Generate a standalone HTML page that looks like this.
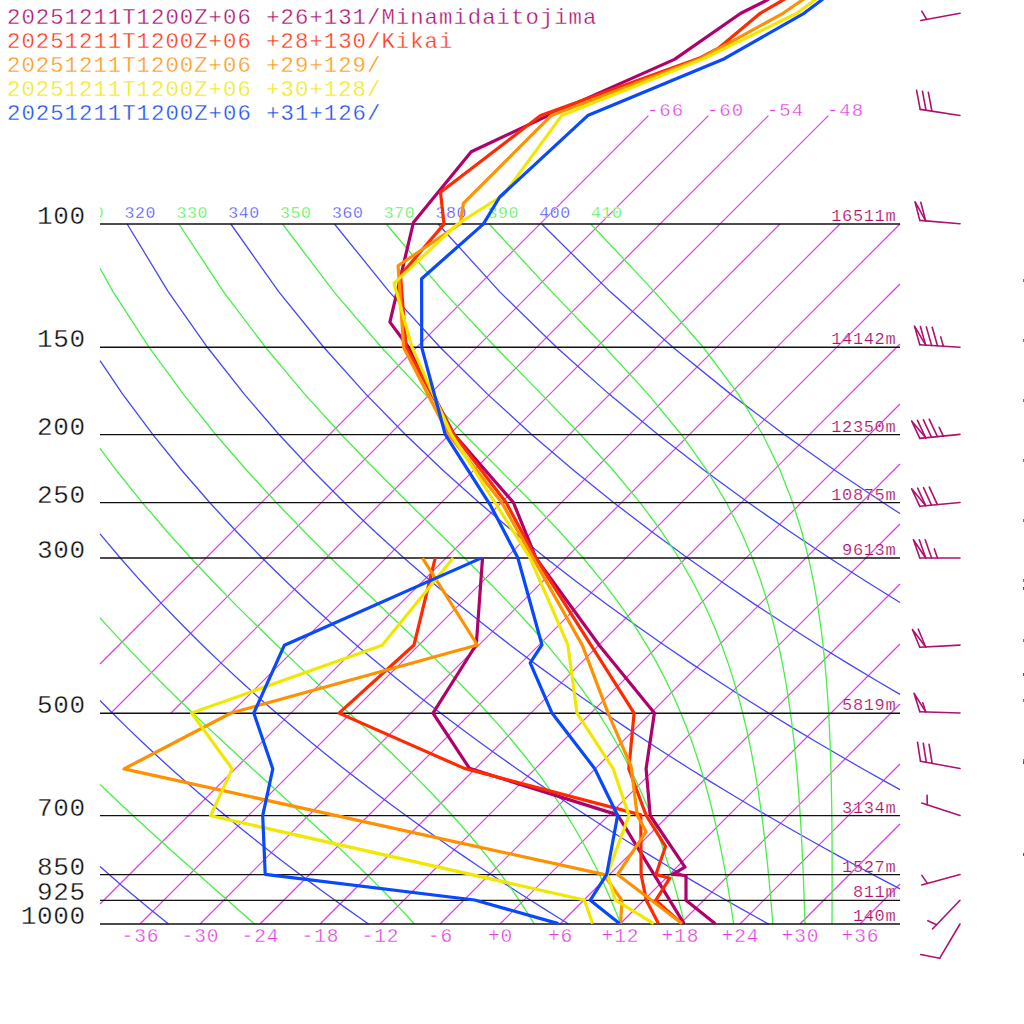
<!DOCTYPE html><html><head><meta charset="utf-8"><style>html,body{margin:0;padding:0;background:#fff}svg{display:block}</style></head><body>
<svg width="1024" height="1024" viewBox="0 0 1024 1024">
<rect width="1024" height="1024" fill="#fff"/>
<polyline points="100.00,664.00 648.43,115.57" fill="none" stroke="#e03ee0" stroke-width="1.2"/>
<polyline points="110.73,713.27 708.43,115.57" fill="none" stroke="#e03ee0" stroke-width="1.2"/>
<polyline points="170.73,713.27 768.43,115.57" fill="none" stroke="#e03ee0" stroke-width="1.2"/>
<polyline points="230.73,713.27 828.43,115.57" fill="none" stroke="#e03ee0" stroke-width="1.2"/>
<polyline points="100.00,904.00 780.00,224.00" fill="none" stroke="#e03ee0" stroke-width="1.2"/>
<polyline points="140.01,923.99 840.00,224.00" fill="none" stroke="#e03ee0" stroke-width="1.2"/>
<polyline points="200.01,923.99 900.00,224.00" fill="none" stroke="#e03ee0" stroke-width="1.2"/>
<polyline points="260.01,923.99 900.00,284.00" fill="none" stroke="#e03ee0" stroke-width="1.2"/>
<polyline points="320.01,923.99 900.00,344.00" fill="none" stroke="#e03ee0" stroke-width="1.2"/>
<polyline points="380.01,923.99 900.00,404.00" fill="none" stroke="#e03ee0" stroke-width="1.2"/>
<polyline points="440.01,923.99 900.00,464.00" fill="none" stroke="#e03ee0" stroke-width="1.2"/>
<polyline points="500.01,923.99 900.00,524.00" fill="none" stroke="#e03ee0" stroke-width="1.2"/>
<polyline points="560.01,923.99 900.00,584.00" fill="none" stroke="#e03ee0" stroke-width="1.2"/>
<polyline points="620.01,923.99 900.00,644.00" fill="none" stroke="#e03ee0" stroke-width="1.2"/>
<polyline points="680.01,923.99 900.00,704.00" fill="none" stroke="#e03ee0" stroke-width="1.2"/>
<polyline points="740.01,923.99 900.00,764.00" fill="none" stroke="#e03ee0" stroke-width="1.2"/>
<polyline points="800.01,923.99 900.00,824.00" fill="none" stroke="#e03ee0" stroke-width="1.2"/>
<polyline points="860.01,923.99 900.00,884.00" fill="none" stroke="#e03ee0" stroke-width="1.2"/>
<polyline points="100.00,866.57 109.14,874.58 119.36,883.39 129.45,891.96 139.40,900.29 149.23,908.39 158.93,916.29 168.51,923.99" fill="none" stroke="#4646ff" stroke-width="1.3"/>
<polyline points="100.00,700.55 112.57,713.27 127.65,728.10 142.42,742.24 156.89,755.76 171.09,768.69 185.01,781.10 198.68,793.03 212.11,804.50 225.30,815.56 238.27,826.22 251.03,836.53 263.58,846.50 275.93,856.15 288.10,865.50 300.08,874.58 311.89,883.39 323.53,891.96 335.00,900.29 346.32,908.39 357.49,916.29 368.51,923.99" fill="none" stroke="#4646ff" stroke-width="1.3"/>
<polyline points="100.00,533.86 120.29,557.98 141.84,582.31 162.74,604.84 183.03,625.81 202.75,645.43 221.95,663.86 240.64,681.24 258.88,697.68 276.67,713.27 294.05,728.10 311.05,742.24 327.68,755.76 343.96,768.69 359.91,781.10 375.55,793.03 390.89,804.50 405.94,815.56 420.73,826.22 435.26,836.53 449.54,846.50 463.59,856.15 477.41,865.50 491.01,874.58 504.41,883.39 517.60,891.96 530.60,900.29 543.42,908.39 556.05,916.29 568.51,923.99" fill="none" stroke="#4646ff" stroke-width="1.3"/>
<polyline points="100.00,360.63 122.63,394.12 152.90,434.72 181.88,470.52 209.68,502.55 236.40,531.53 262.13,557.98 286.96,582.31 310.96,604.84 334.20,625.81 356.73,645.43 378.61,663.86 399.89,681.24 420.59,697.68 440.77,713.27 460.46,728.10 479.68,742.24 498.46,755.76 516.82,768.69 534.80,781.10 552.41,793.03 569.66,804.50 586.59,815.56 603.19,826.22 619.50,836.53 635.51,846.50 651.25,856.15 666.73,865.50 681.95,874.58 696.93,883.39 711.68,891.96 726.20,900.29 740.51,908.39 754.61,916.29 768.51,923.99" fill="none" stroke="#4646ff" stroke-width="1.3"/>
<polyline points="127.13,224.00 168.36,291.84 207.35,347.26 244.24,394.12 279.24,434.72 312.54,470.52 344.33,502.55 374.76,531.53 403.97,557.98 432.08,582.31 459.18,604.84 485.37,625.81 510.71,645.43 535.28,663.86 559.13,681.24 582.31,697.68 604.88,713.27 626.86,728.10 648.30,742.24 669.24,755.76 689.69,768.69 709.69,781.10 729.27,793.03 748.44,804.50 767.23,815.56 785.65,826.22 803.73,836.53 821.48,846.50 838.91,856.15 856.04,865.50 872.88,874.58 889.45,883.39 900.00,888.93" fill="none" stroke="#4646ff" stroke-width="1.3"/>
<polyline points="230.80,224.00 278.84,291.84 323.74,347.26 365.86,394.12 405.58,434.72 443.20,470.52 478.98,502.55 513.12,531.53 545.81,557.98 577.20,582.31 607.40,604.84 636.53,625.81 664.69,645.43 691.94,663.86 718.37,681.24 744.03,697.68 768.98,713.27 793.26,728.10 816.93,742.24 840.02,755.76 862.56,768.69 884.59,781.10 900.00,789.63" fill="none" stroke="#4646ff" stroke-width="1.3"/>
<polyline points="334.46,224.00 389.32,291.84 440.12,347.26 487.48,394.12 531.92,434.72 573.86,470.52 613.62,502.55 651.48,531.53 687.65,557.98 722.31,582.31 755.62,604.84 787.70,625.81 818.67,645.43 848.61,663.86 877.61,681.24 900.00,694.32" fill="none" stroke="#4646ff" stroke-width="1.3"/>
<polyline points="438.13,224.00 499.81,291.84 556.50,347.26 609.09,394.12 658.26,434.72 704.52,470.52 748.27,502.55 789.84,531.53 829.49,557.98 867.43,582.31 900.00,602.46" fill="none" stroke="#4646ff" stroke-width="1.3"/>
<polyline points="541.79,224.00 610.29,291.84 672.88,347.26 730.71,394.12 784.60,434.72 835.18,470.52 882.92,502.55 900.00,513.48" fill="none" stroke="#4646ff" stroke-width="1.3"/>
<polyline points="100.00,784.39 108.99,793.03 121.12,804.50 132.98,815.56 144.57,826.22 155.89,836.53 166.94,846.50 177.73,856.15 188.25,865.50 198.50,874.58 208.48,883.39 218.20,891.96 227.65,900.29 236.84,908.39 245.77,916.29 254.45,923.99" fill="none" stroke="#46f046" stroke-width="1.3"/>
<polyline points="100.00,617.75 107.20,625.81 125.37,645.43 143.02,663.86 160.15,681.24 176.78,697.68 192.90,713.27 208.52,728.10 223.65,742.24 238.28,755.76 252.41,768.69 266.05,781.10 279.18,793.03 291.82,804.50 303.96,815.56 315.61,826.22 326.78,836.53 337.46,846.50 347.69,856.15 357.46,865.50 366.78,874.58 375.69,883.39 384.18,891.96 392.28,900.29 400.00,908.39 407.37,916.29 414.39,923.99" fill="none" stroke="#46f046" stroke-width="1.3"/>
<polyline points="100.00,448.47 116.50,470.52 142.25,502.55 167.01,531.53 190.82,557.98 213.73,582.31 235.74,604.84 256.88,625.81 277.14,645.43 296.52,663.86 315.02,681.24 332.63,697.68 349.35,713.27 365.17,728.10 380.10,742.24 394.17,755.76 407.38,768.69 419.78,781.10 431.40,793.03 442.27,804.50 452.44,815.56 461.95,826.22 470.84,836.53 479.16,846.50 486.95,856.15 494.24,865.50 501.08,874.58 507.50,883.39 513.53,891.96 519.20,900.29 524.54,908.39 529.58,916.29 534.33,923.99" fill="none" stroke="#46f046" stroke-width="1.3"/>
<polyline points="100.00,268.30 113.12,291.84 149.15,347.26 183.39,394.12 215.93,434.72 246.88,470.52 276.30,502.55 304.25,531.53 330.72,557.98 355.70,582.31 379.16,604.84 401.09,625.81 421.48,645.43 440.33,663.86 457.68,681.24 473.59,697.68 488.14,713.27 501.42,728.10 513.53,742.24 524.57,755.76 534.64,768.69 543.83,781.10 552.24,793.03 559.95,804.50 567.02,815.56 573.53,826.22 579.54,836.53 585.08,846.50 590.22,856.15 595.00,865.50 599.44,874.58 603.58,883.39 607.46,891.96 611.09,900.29 614.49,908.39 617.70,916.29 620.71,923.99" fill="none" stroke="#46f046" stroke-width="1.3"/>
<polyline points="178.96,224.00 223.58,291.84 265.45,347.26 304.73,394.12 341.57,434.72 376.01,470.52 408.02,502.55 437.55,531.53 464.51,557.98 488.90,582.31 510.75,604.84 530.21,625.81 547.43,645.43 562.65,663.86 576.08,681.24 587.94,697.68 598.45,713.27 607.77,728.10 616.07,742.24 623.50,755.76 630.16,768.69 636.17,781.10 641.60,793.03 646.54,804.50 651.03,815.56 655.14,826.22 658.92,836.53 662.39,846.50 665.60,856.15 668.57,865.50 671.34,874.58 673.91,883.39 676.31,891.96 678.56,900.29 680.68,908.39 682.66,916.29 684.53,923.99" fill="none" stroke="#46f046" stroke-width="1.3"/>
<polyline points="282.61,224.00 333.94,291.84 381.35,347.26 424.98,394.12 464.77,434.72 500.54,470.52 532.15,502.55 559.63,531.53 583.19,557.98 603.24,582.31 620.23,604.84 634.64,625.81 646.89,645.43 657.36,663.86 666.35,681.24 674.13,697.68 680.90,713.27 686.83,728.10 692.05,742.24 696.68,755.76 700.80,768.69 704.49,781.10 707.82,793.03 710.82,804.50 713.54,815.56 716.03,826.22 718.30,836.53 720.39,846.50 722.32,856.15 724.10,865.50 725.75,874.58 727.29,883.39 728.73,891.96 730.07,900.29 731.33,908.39 732.51,916.29 733.63,923.99" fill="none" stroke="#46f046" stroke-width="1.3"/>
<polyline points="386.15,224.00 443.80,291.84 495.64,347.26 541.38,394.12 580.62,434.72 613.36,470.52 640.08,502.55 661.65,531.53 679.03,557.98 693.09,582.31 704.55,604.84 713.97,625.81 721.80,645.43 728.36,663.86 733.92,681.24 738.66,697.68 742.74,713.27 746.28,728.10 749.36,742.24 752.07,755.76 754.47,768.69 756.60,781.10 758.50,793.03 760.21,804.50 761.75,815.56 763.15,826.22 764.42,836.53 765.58,846.50 766.64,856.15 767.62,865.50 768.53,874.58 769.37,883.39 770.15,891.96 770.87,900.29 771.56,908.39 772.20,916.29 772.80,923.99" fill="none" stroke="#46f046" stroke-width="1.3"/>
<polyline points="489.26,224.00 551.81,291.84 604.96,347.26 648.04,394.12 681.55,434.72 707.04,470.52 726.33,502.55 741.04,531.53 752.40,557.98 761.29,582.31 768.35,604.84 774.04,625.81 778.66,645.43 782.47,663.86 785.63,681.24 788.28,697.68 790.52,713.27 792.43,728.10 794.06,742.24 795.47,755.76 796.69,768.69 797.75,781.10 798.68,793.03 799.50,804.50 800.23,815.56 800.87,826.22 801.45,836.53 801.97,846.50 802.43,856.15 802.85,865.50 803.24,874.58 803.59,883.39 803.91,891.96 804.20,900.29 804.48,908.39 804.73,916.29 804.97,923.99" fill="none" stroke="#46f046" stroke-width="1.3"/>
<polyline points="590.82,224.00 654.58,291.84 703.26,347.26 738.27,394.12 762.86,434.72 780.20,470.52 792.64,502.55 801.74,531.53 808.52,557.98 813.66,582.31 817.60,604.84 820.67,625.81 823.08,645.43 824.98,663.86 826.49,681.24 827.69,697.68 828.66,713.27 829.43,728.10 830.05,742.24 830.54,755.76 830.94,768.69 831.25,781.10 831.50,793.03 831.69,804.50 831.83,815.56 831.94,826.22 832.02,836.53 832.08,846.50 832.11,856.15 832.13,865.50 832.13,874.58 832.13,883.39 832.11,891.96 832.09,900.29 832.07,908.39 832.04,916.29 832.01,923.99" fill="none" stroke="#46f046" stroke-width="1.3"/>
<line x1="100.0" y1="224.00" x2="900.0" y2="224.00" stroke="#111" stroke-width="1.3"/>
<line x1="100.0" y1="347.26" x2="900.0" y2="347.26" stroke="#111" stroke-width="1.3"/>
<line x1="100.0" y1="434.72" x2="900.0" y2="434.72" stroke="#111" stroke-width="1.3"/>
<line x1="100.0" y1="502.55" x2="900.0" y2="502.55" stroke="#111" stroke-width="1.3"/>
<line x1="100.0" y1="557.98" x2="900.0" y2="557.98" stroke="#111" stroke-width="1.3"/>
<line x1="100.0" y1="713.27" x2="900.0" y2="713.27" stroke="#111" stroke-width="1.3"/>
<line x1="100.0" y1="815.56" x2="900.0" y2="815.56" stroke="#111" stroke-width="1.3"/>
<line x1="100.0" y1="874.58" x2="900.0" y2="874.58" stroke="#111" stroke-width="1.3"/>
<line x1="100.0" y1="900.29" x2="900.0" y2="900.29" stroke="#111" stroke-width="1.3"/>
<line x1="100.0" y1="923.99" x2="900.0" y2="923.99" stroke="#111" stroke-width="1.3"/>
<text x="85.6" y="224.0" font-family="Liberation Mono" stroke="#fff" stroke-width="0.35" font-size="26" letter-spacing="0.6" text-anchor="end" fill="#111">100</text>
<text x="85.6" y="347.3" font-family="Liberation Mono" stroke="#fff" stroke-width="0.35" font-size="26" letter-spacing="0.6" text-anchor="end" fill="#111">150</text>
<text x="85.6" y="434.7" font-family="Liberation Mono" stroke="#fff" stroke-width="0.35" font-size="26" letter-spacing="0.6" text-anchor="end" fill="#111">200</text>
<text x="85.6" y="502.6" font-family="Liberation Mono" stroke="#fff" stroke-width="0.35" font-size="26" letter-spacing="0.6" text-anchor="end" fill="#111">250</text>
<text x="85.6" y="558.0" font-family="Liberation Mono" stroke="#fff" stroke-width="0.35" font-size="26" letter-spacing="0.6" text-anchor="end" fill="#111">300</text>
<text x="85.6" y="713.3" font-family="Liberation Mono" stroke="#fff" stroke-width="0.35" font-size="26" letter-spacing="0.6" text-anchor="end" fill="#111">500</text>
<text x="85.6" y="815.6" font-family="Liberation Mono" stroke="#fff" stroke-width="0.35" font-size="26" letter-spacing="0.6" text-anchor="end" fill="#111">700</text>
<text x="85.6" y="874.6" font-family="Liberation Mono" stroke="#fff" stroke-width="0.35" font-size="26" letter-spacing="0.6" text-anchor="end" fill="#111">850</text>
<text x="85.6" y="900.3" font-family="Liberation Mono" stroke="#fff" stroke-width="0.35" font-size="26" letter-spacing="0.6" text-anchor="end" fill="#111">925</text>
<text x="85.6" y="924.0" font-family="Liberation Mono" stroke="#fff" stroke-width="0.35" font-size="26" letter-spacing="0.6" text-anchor="end" fill="#111">1000</text>
<text x="896.3" y="221.0" font-family="Liberation Mono" stroke="#fff" stroke-width="0.2" font-size="17" letter-spacing="0.65" text-anchor="end" fill="#b0106e">16511m</text>
<text x="896.3" y="344.3" font-family="Liberation Mono" stroke="#fff" stroke-width="0.2" font-size="17" letter-spacing="0.65" text-anchor="end" fill="#b0106e">14142m</text>
<text x="896.3" y="431.7" font-family="Liberation Mono" stroke="#fff" stroke-width="0.2" font-size="17" letter-spacing="0.65" text-anchor="end" fill="#b0106e">12350m</text>
<text x="896.3" y="499.6" font-family="Liberation Mono" stroke="#fff" stroke-width="0.2" font-size="17" letter-spacing="0.65" text-anchor="end" fill="#b0106e">10875m</text>
<text x="896.3" y="555.0" font-family="Liberation Mono" stroke="#fff" stroke-width="0.2" font-size="17" letter-spacing="0.65" text-anchor="end" fill="#b0106e">9613m</text>
<text x="896.3" y="710.3" font-family="Liberation Mono" stroke="#fff" stroke-width="0.2" font-size="17" letter-spacing="0.65" text-anchor="end" fill="#b0106e">5819m</text>
<text x="896.3" y="812.6" font-family="Liberation Mono" stroke="#fff" stroke-width="0.2" font-size="17" letter-spacing="0.65" text-anchor="end" fill="#b0106e">3134m</text>
<text x="896.3" y="871.6" font-family="Liberation Mono" stroke="#fff" stroke-width="0.2" font-size="17" letter-spacing="0.65" text-anchor="end" fill="#b0106e">1527m</text>
<text x="896.3" y="897.3" font-family="Liberation Mono" stroke="#fff" stroke-width="0.2" font-size="17" letter-spacing="0.65" text-anchor="end" fill="#b0106e">811m</text>
<text x="896.3" y="921.0" font-family="Liberation Mono" stroke="#fff" stroke-width="0.2" font-size="17" letter-spacing="0.65" text-anchor="end" fill="#b0106e">140m</text>
<text x="140.5" y="942.3" font-family="Liberation Mono" stroke="#fff" stroke-width="0.35" font-size="19.5" letter-spacing="0.9" text-anchor="middle" fill="#e03ee0">-36</text>
<text x="200.5" y="942.3" font-family="Liberation Mono" stroke="#fff" stroke-width="0.35" font-size="19.5" letter-spacing="0.9" text-anchor="middle" fill="#e03ee0">-30</text>
<text x="260.5" y="942.3" font-family="Liberation Mono" stroke="#fff" stroke-width="0.35" font-size="19.5" letter-spacing="0.9" text-anchor="middle" fill="#e03ee0">-24</text>
<text x="320.5" y="942.3" font-family="Liberation Mono" stroke="#fff" stroke-width="0.35" font-size="19.5" letter-spacing="0.9" text-anchor="middle" fill="#e03ee0">-18</text>
<text x="380.5" y="942.3" font-family="Liberation Mono" stroke="#fff" stroke-width="0.35" font-size="19.5" letter-spacing="0.9" text-anchor="middle" fill="#e03ee0">-12</text>
<text x="440.5" y="942.3" font-family="Liberation Mono" stroke="#fff" stroke-width="0.35" font-size="19.5" letter-spacing="0.9" text-anchor="middle" fill="#e03ee0">-6</text>
<text x="500.5" y="942.3" font-family="Liberation Mono" stroke="#fff" stroke-width="0.35" font-size="19.5" letter-spacing="0.9" text-anchor="middle" fill="#e03ee0">+0</text>
<text x="560.5" y="942.3" font-family="Liberation Mono" stroke="#fff" stroke-width="0.35" font-size="19.5" letter-spacing="0.9" text-anchor="middle" fill="#e03ee0">+6</text>
<text x="620.5" y="942.3" font-family="Liberation Mono" stroke="#fff" stroke-width="0.35" font-size="19.5" letter-spacing="0.9" text-anchor="middle" fill="#e03ee0">+12</text>
<text x="680.5" y="942.3" font-family="Liberation Mono" stroke="#fff" stroke-width="0.35" font-size="19.5" letter-spacing="0.9" text-anchor="middle" fill="#e03ee0">+18</text>
<text x="740.5" y="942.3" font-family="Liberation Mono" stroke="#fff" stroke-width="0.35" font-size="19.5" letter-spacing="0.9" text-anchor="middle" fill="#e03ee0">+24</text>
<text x="800.5" y="942.3" font-family="Liberation Mono" stroke="#fff" stroke-width="0.35" font-size="19.5" letter-spacing="0.9" text-anchor="middle" fill="#e03ee0">+30</text>
<text x="860.5" y="942.3" font-family="Liberation Mono" stroke="#fff" stroke-width="0.35" font-size="19.5" letter-spacing="0.9" text-anchor="middle" fill="#e03ee0">+36</text>
<text x="646.9" y="116.3" font-family="Liberation Mono" stroke="#fff" stroke-width="0.35" font-size="19" letter-spacing="1" fill="#e03ee0">-66</text>
<text x="706.9" y="116.3" font-family="Liberation Mono" stroke="#fff" stroke-width="0.35" font-size="19" letter-spacing="1" fill="#e03ee0">-60</text>
<text x="766.9" y="116.3" font-family="Liberation Mono" stroke="#fff" stroke-width="0.35" font-size="19" letter-spacing="1" fill="#e03ee0">-54</text>
<text x="826.9" y="116.3" font-family="Liberation Mono" stroke="#fff" stroke-width="0.35" font-size="19" letter-spacing="1" fill="#e03ee0">-48</text>
<clipPath id="cl"><rect x="100" y="150" width="800" height="100"/></clipPath><g clip-path="url(#cl)"><text x="21.0" y="218.2" font-family="Liberation Mono" stroke="#fff" stroke-width="0.35" font-size="16.5" letter-spacing="0.6" fill="#4646ff">300</text><text x="72.8" y="218.2" font-family="Liberation Mono" stroke="#fff" stroke-width="0.35" font-size="16.5" letter-spacing="0.6" fill="#46f046">310</text><text x="124.6" y="218.2" font-family="Liberation Mono" stroke="#fff" stroke-width="0.35" font-size="16.5" letter-spacing="0.6" fill="#4646ff">320</text><text x="176.5" y="218.2" font-family="Liberation Mono" stroke="#fff" stroke-width="0.35" font-size="16.5" letter-spacing="0.6" fill="#46f046">330</text><text x="228.3" y="218.2" font-family="Liberation Mono" stroke="#fff" stroke-width="0.35" font-size="16.5" letter-spacing="0.6" fill="#4646ff">340</text><text x="280.1" y="218.2" font-family="Liberation Mono" stroke="#fff" stroke-width="0.35" font-size="16.5" letter-spacing="0.6" fill="#46f046">350</text><text x="332.0" y="218.2" font-family="Liberation Mono" stroke="#fff" stroke-width="0.35" font-size="16.5" letter-spacing="0.6" fill="#4646ff">360</text><text x="383.8" y="218.2" font-family="Liberation Mono" stroke="#fff" stroke-width="0.35" font-size="16.5" letter-spacing="0.6" fill="#46f046">370</text><text x="435.6" y="218.2" font-family="Liberation Mono" stroke="#fff" stroke-width="0.35" font-size="16.5" letter-spacing="0.6" fill="#4646ff">380</text><text x="487.5" y="218.2" font-family="Liberation Mono" stroke="#fff" stroke-width="0.35" font-size="16.5" letter-spacing="0.6" fill="#46f046">390</text><text x="539.3" y="218.2" font-family="Liberation Mono" stroke="#fff" stroke-width="0.35" font-size="16.5" letter-spacing="0.6" fill="#4646ff">400</text><text x="591.1" y="218.2" font-family="Liberation Mono" stroke="#fff" stroke-width="0.35" font-size="16.5" letter-spacing="0.6" fill="#46f046">410</text></g>
<text x="7" y="24" font-family="Liberation Mono" stroke="#fff" stroke-width="0.35" font-size="22.3" letter-spacing="1.02" fill="#b01070">20251211T1200Z+06 +26+131/Minamidaitojima</text>
<text x="7" y="48" font-family="Liberation Mono" stroke="#fff" stroke-width="0.35" font-size="22.3" letter-spacing="1.02" fill="#ff3818">20251211T1200Z+06 +28+130/Kikai</text>
<text x="7" y="72" font-family="Liberation Mono" stroke="#fff" stroke-width="0.35" font-size="22.3" letter-spacing="1.02" fill="#ff9818">20251211T1200Z+06 +29+129/</text>
<text x="7" y="96" font-family="Liberation Mono" stroke="#fff" stroke-width="0.35" font-size="22.3" letter-spacing="1.02" fill="#f0e820">20251211T1200Z+06 +30+128/</text>
<text x="7" y="120" font-family="Liberation Mono" stroke="#fff" stroke-width="0.35" font-size="22.3" letter-spacing="1.02" fill="#1850f0">20251211T1200Z+06 +31+126/</text>
<polyline points="715.3,923.8 686.0,900.3 686.0,875.5 672.3,874.4 685.0,867.1 650.2,815.5 646.1,768.7 654.4,713.1 599.0,645.0 536.0,558.1 513.4,502.5 454.0,434.4 408.6,347.3 389.9,322.1 413.4,222.5 471.2,151.8 548.0,115.6 674.5,59.4 740.8,13.3 767.2,0.0 788.0,-14.0" fill="none" stroke="#b0006a" stroke-width="3.2" stroke-linejoin="round"/>
<polyline points="684.0,923.6 617.6,814.9 469.5,768.4 433.0,713.1 476.3,644.5 482.5,558.3" fill="none" stroke="#b0006a" stroke-width="3.2" stroke-linejoin="round"/>
<polyline points="682.0,923.6 655.7,900.3 669.8,878.2 655.9,874.4 665.5,846.4 646.2,815.5 628.8,768.7 634.1,713.1 535.9,558.1 506.1,502.5 453.7,434.3 406.1,347.3 400.5,275.2 444.0,224.1 440.5,192.3 540.6,115.6 699.0,58.3 719.0,47.8 760.2,13.3 783.0,0.0 800.0,-10.0" fill="none" stroke="#ff2a00" stroke-width="3.2" stroke-linejoin="round"/>
<polyline points="658.4,923.6 646.3,900.3 641.1,874.4 640.8,814.9 464.4,768.4 339.0,713.1 414.0,645.0 435.2,558.1" fill="none" stroke="#ff2a00" stroke-width="3.2" stroke-linejoin="round"/>
<polyline points="682.0,923.6 617.6,874.5 646.1,831.7 637.3,815.5 631.0,766.0 608.1,713.1 582.5,645.6 533.0,557.9 501.7,502.5 448.4,434.3 403.6,347.3 398.1,265.8 460.4,223.5 463.4,203.4 551.1,115.6 700.0,59.0 783.0,13.3 802.4,0.0 818.0,-10.0" fill="none" stroke="#ff9000" stroke-width="3.2" stroke-linejoin="round"/>
<polyline points="620.5,923.6 622.0,900.5 603.6,874.4 124.0,768.9 231.0,713.0 477.4,645.0 422.5,558.1" fill="none" stroke="#ff9000" stroke-width="3.2" stroke-linejoin="round"/>
<polyline points="653.7,923.6 615.2,899.8 607.3,874.4 629.0,815.5 613.2,768.7 577.0,713.1 567.8,644.6 530.0,557.8 494.9,502.5 451.4,434.3 412.0,347.3 394.0,283.4 457.5,224.0 503.5,195.0 561.7,115.6 703.0,59.0 797.0,13.3 814.7,0.0 830.0,-10.0" fill="none" stroke="#f0e800" stroke-width="3.2" stroke-linejoin="round"/>
<polyline points="592.7,923.6 584.3,900.0 210.6,815.7 232.2,768.9 191.6,713.0 382.2,645.2 453.2,558.1" fill="none" stroke="#f0e800" stroke-width="3.2" stroke-linejoin="round"/>
<polyline points="619.5,923.6 590.3,900.2 606.7,874.4 617.6,815.5 594.8,768.7 552.0,713.1 530.2,662.8 541.9,644.8 517.8,557.8 509.5,541.8 496.8,517.3 490.0,504.6 445.2,434.3 421.7,347.3 421.6,278.7 483.3,224.1 499.7,197.0 587.7,115.6 724.4,58.7 804.0,13.3 821.7,0.0 836.0,-12.0" fill="none" stroke="#0a48ff" stroke-width="3.2" stroke-linejoin="round"/>
<polyline points="558.4,923.6 474.6,900.0 265.2,874.3 262.7,815.7 272.8,768.9 253.8,713.0 284.4,645.2 481.1,558.1" fill="none" stroke="#0a48ff" stroke-width="3.2" stroke-linejoin="round"/>
<polyline points="960.0,13.3 920.8,20.5" fill="none" stroke="#b0106e" stroke-width="1.6" stroke-linejoin="round" stroke-linecap="round"/>
<polyline points="926.6,19.4 921.8,11.1" fill="none" stroke="#b0106e" stroke-width="1.6" stroke-linejoin="round" stroke-linecap="round"/>
<polyline points="960.0,115.5 920.2,109.4" fill="none" stroke="#b0106e" stroke-width="1.6" stroke-linejoin="round" stroke-linecap="round"/>
<polyline points="920.2,109.4 916.6,90.4" fill="none" stroke="#b0106e" stroke-width="1.6" stroke-linejoin="round" stroke-linecap="round"/>
<polyline points="926.0,110.3 922.5,91.3" fill="none" stroke="#b0106e" stroke-width="1.6" stroke-linejoin="round" stroke-linecap="round"/>
<polyline points="931.9,111.2 928.3,92.2" fill="none" stroke="#b0106e" stroke-width="1.6" stroke-linejoin="round" stroke-linecap="round"/>
<polyline points="960.0,223.8 919.8,220.4" fill="none" stroke="#b0106e" stroke-width="1.6" stroke-linejoin="round" stroke-linecap="round"/>
<polyline points="919.8,220.4 915.0,201.7 925.7,220.9" fill="none" stroke="#b0106e" stroke-width="1.6" stroke-linejoin="round" stroke-linecap="round"/>
<polyline points="925.7,220.9 920.8,202.2" fill="none" stroke="#b0106e" stroke-width="1.6" stroke-linejoin="round" stroke-linecap="round"/>
<polyline points="960.0,347.2 919.8,344.7" fill="none" stroke="#b0106e" stroke-width="1.6" stroke-linejoin="round" stroke-linecap="round"/>
<polyline points="919.8,344.7 914.5,326.1 925.7,345.1" fill="none" stroke="#b0106e" stroke-width="1.6" stroke-linejoin="round" stroke-linecap="round"/>
<polyline points="925.7,345.1 920.4,326.5" fill="none" stroke="#b0106e" stroke-width="1.6" stroke-linejoin="round" stroke-linecap="round"/>
<polyline points="931.6,345.4 926.3,326.9" fill="none" stroke="#b0106e" stroke-width="1.6" stroke-linejoin="round" stroke-linecap="round"/>
<polyline points="937.5,345.8 932.2,327.2" fill="none" stroke="#b0106e" stroke-width="1.6" stroke-linejoin="round" stroke-linecap="round"/>
<polyline points="943.4,346.2 940.7,336.9" fill="none" stroke="#b0106e" stroke-width="1.6" stroke-linejoin="round" stroke-linecap="round"/>
<polyline points="960.0,434.4 919.8,438.4" fill="none" stroke="#b0106e" stroke-width="1.6" stroke-linejoin="round" stroke-linecap="round"/>
<polyline points="919.8,438.4 911.6,420.9 925.7,437.8" fill="none" stroke="#b0106e" stroke-width="1.6" stroke-linejoin="round" stroke-linecap="round"/>
<polyline points="925.7,437.8 917.5,420.3" fill="none" stroke="#b0106e" stroke-width="1.6" stroke-linejoin="round" stroke-linecap="round"/>
<polyline points="931.5,437.2 923.4,419.8" fill="none" stroke="#b0106e" stroke-width="1.6" stroke-linejoin="round" stroke-linecap="round"/>
<polyline points="937.4,436.6 929.2,419.2" fill="none" stroke="#b0106e" stroke-width="1.6" stroke-linejoin="round" stroke-linecap="round"/>
<polyline points="943.3,436.1 939.2,427.3" fill="none" stroke="#b0106e" stroke-width="1.6" stroke-linejoin="round" stroke-linecap="round"/>
<polyline points="960.0,502.5 919.8,506.3" fill="none" stroke="#b0106e" stroke-width="1.6" stroke-linejoin="round" stroke-linecap="round"/>
<polyline points="919.8,506.3 911.7,488.8 925.7,505.7" fill="none" stroke="#b0106e" stroke-width="1.6" stroke-linejoin="round" stroke-linecap="round"/>
<polyline points="925.7,505.7 917.6,488.2" fill="none" stroke="#b0106e" stroke-width="1.6" stroke-linejoin="round" stroke-linecap="round"/>
<polyline points="931.5,505.2 923.5,487.7" fill="none" stroke="#b0106e" stroke-width="1.6" stroke-linejoin="round" stroke-linecap="round"/>
<polyline points="937.4,504.6 929.3,487.1" fill="none" stroke="#b0106e" stroke-width="1.6" stroke-linejoin="round" stroke-linecap="round"/>
<polyline points="960.0,558.0 919.8,558.0" fill="none" stroke="#b0106e" stroke-width="1.6" stroke-linejoin="round" stroke-linecap="round"/>
<polyline points="919.8,558.0 913.4,539.8 925.7,558.0" fill="none" stroke="#b0106e" stroke-width="1.6" stroke-linejoin="round" stroke-linecap="round"/>
<polyline points="925.7,558.0 919.3,539.8" fill="none" stroke="#b0106e" stroke-width="1.6" stroke-linejoin="round" stroke-linecap="round"/>
<polyline points="931.6,558.0 925.2,539.8" fill="none" stroke="#b0106e" stroke-width="1.6" stroke-linejoin="round" stroke-linecap="round"/>
<polyline points="937.5,558.0 934.3,548.9" fill="none" stroke="#b0106e" stroke-width="1.6" stroke-linejoin="round" stroke-linecap="round"/>
<polyline points="960.0,645.1 919.8,647.3" fill="none" stroke="#b0106e" stroke-width="1.6" stroke-linejoin="round" stroke-linecap="round"/>
<polyline points="919.8,647.3 912.4,629.5 925.7,647.0" fill="none" stroke="#b0106e" stroke-width="1.6" stroke-linejoin="round" stroke-linecap="round"/>
<polyline points="925.7,647.0 918.3,629.2" fill="none" stroke="#b0106e" stroke-width="1.6" stroke-linejoin="round" stroke-linecap="round"/>
<polyline points="960.0,713.0 919.8,711.7" fill="none" stroke="#b0106e" stroke-width="1.6" stroke-linejoin="round" stroke-linecap="round"/>
<polyline points="919.8,711.7 914.0,693.3 925.7,711.9" fill="none" stroke="#b0106e" stroke-width="1.6" stroke-linejoin="round" stroke-linecap="round"/>
<polyline points="925.7,711.9 922.8,702.7" fill="none" stroke="#b0106e" stroke-width="1.6" stroke-linejoin="round" stroke-linecap="round"/>
<polyline points="960.0,768.5 920.5,761.3" fill="none" stroke="#b0106e" stroke-width="1.6" stroke-linejoin="round" stroke-linecap="round"/>
<polyline points="920.5,761.3 917.5,742.2" fill="none" stroke="#b0106e" stroke-width="1.6" stroke-linejoin="round" stroke-linecap="round"/>
<polyline points="926.3,762.4 923.3,743.3" fill="none" stroke="#b0106e" stroke-width="1.6" stroke-linejoin="round" stroke-linecap="round"/>
<polyline points="932.1,763.4 929.1,744.4" fill="none" stroke="#b0106e" stroke-width="1.6" stroke-linejoin="round" stroke-linecap="round"/>
<polyline points="960.0,815.4 921.7,803.1" fill="none" stroke="#b0106e" stroke-width="1.6" stroke-linejoin="round" stroke-linecap="round"/>
<polyline points="927.3,804.9 927.1,795.3" fill="none" stroke="#b0106e" stroke-width="1.6" stroke-linejoin="round" stroke-linecap="round"/>
<polyline points="960.0,874.6 921.7,884.9" fill="none" stroke="#b0106e" stroke-width="1.6" stroke-linejoin="round" stroke-linecap="round"/>
<polyline points="927.4,883.4 921.9,875.4" fill="none" stroke="#b0106e" stroke-width="1.6" stroke-linejoin="round" stroke-linecap="round"/>
<polyline points="960.0,900.3 932.5,929.0" fill="none" stroke="#b0106e" stroke-width="1.6" stroke-linejoin="round" stroke-linecap="round"/>
<polyline points="936.6,924.7 927.8,920.8" fill="none" stroke="#b0106e" stroke-width="1.6" stroke-linejoin="round" stroke-linecap="round"/>
<polyline points="960.0,924.0 939.6,958.3" fill="none" stroke="#b0106e" stroke-width="1.6" stroke-linejoin="round" stroke-linecap="round"/>
<polyline points="939.6,958.3 920.7,954.5" fill="none" stroke="#b0106e" stroke-width="1.6" stroke-linejoin="round" stroke-linecap="round"/>
<rect x="1023" y="279" width="1" height="3" fill="#e030e0"/>
<rect x="1023" y="339" width="1" height="3" fill="#e030e0"/>
<rect x="1023" y="399" width="1" height="3" fill="#e030e0"/>
<rect x="1023" y="459" width="1" height="3" fill="#e030e0"/>
<rect x="1023" y="519" width="1" height="3" fill="#e030e0"/>
<rect x="1023" y="579" width="1" height="3" fill="#e030e0"/>
<rect x="1023" y="639" width="1" height="3" fill="#e030e0"/>
<rect x="1023" y="699" width="1" height="3" fill="#e030e0"/>
<rect x="1023" y="759" width="1" height="3" fill="#e030e0"/>
<rect x="1023" y="587" width="1" height="3" fill="#3050f0"/>
<rect x="1023" y="673" width="1" height="3" fill="#3050f0"/>
<rect x="1023" y="761" width="1" height="3" fill="#3050f0"/>
<rect x="1023" y="853" width="1" height="3" fill="#3050f0"/>
</svg></body></html>
